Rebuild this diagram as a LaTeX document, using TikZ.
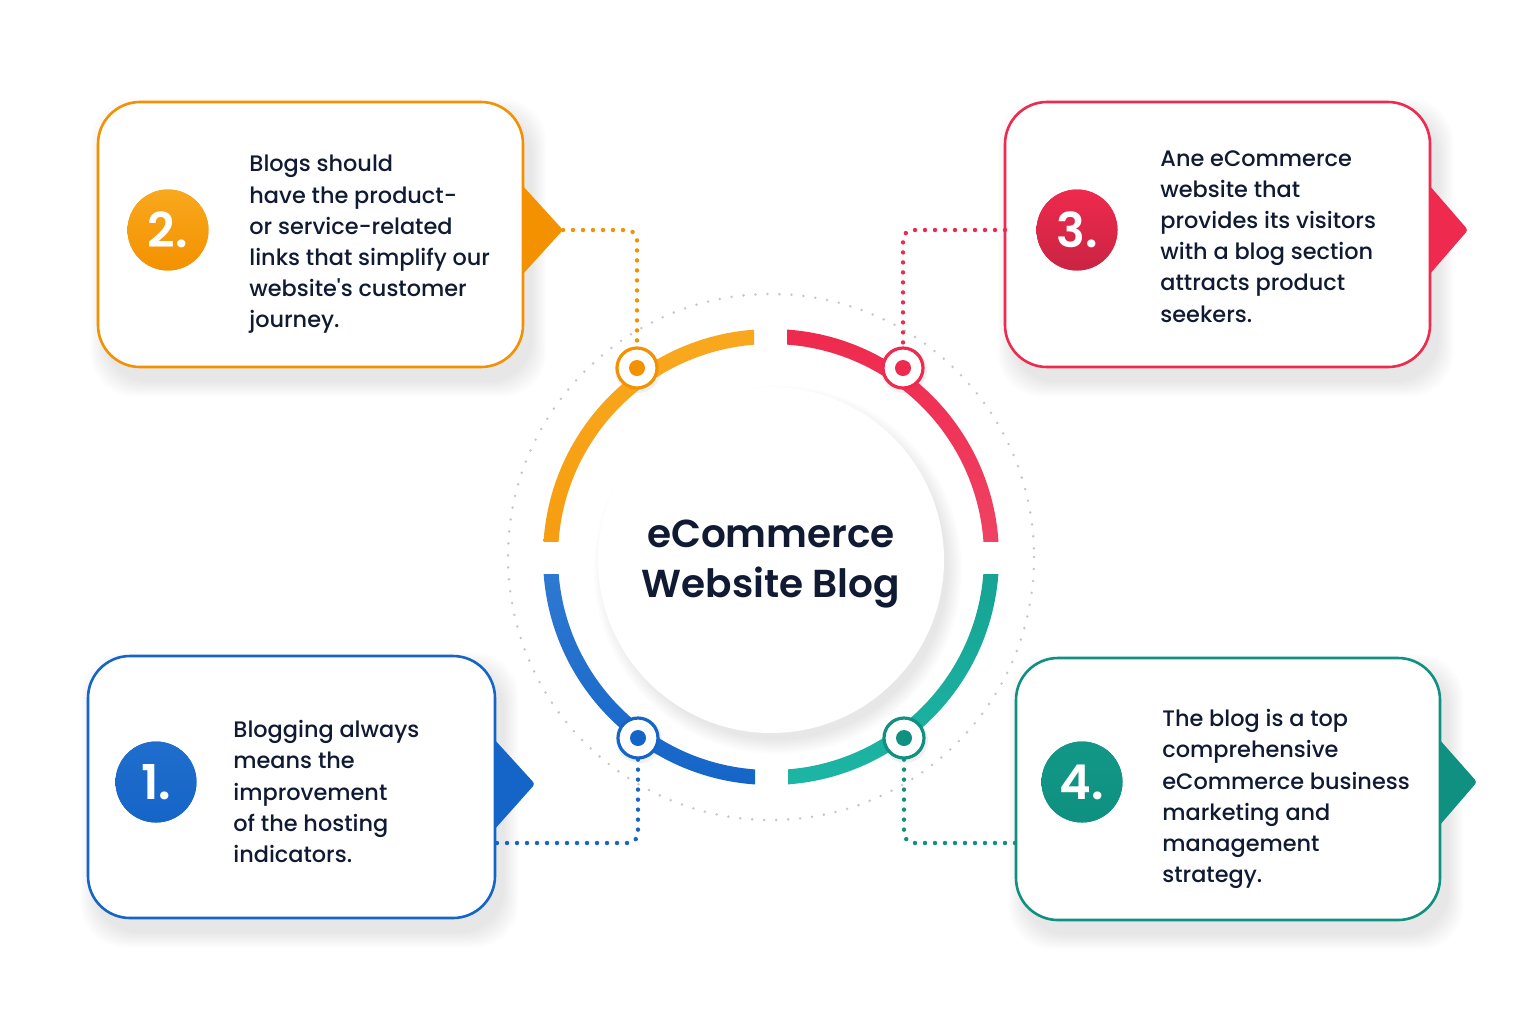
\documentclass[tikz,border=0pt]{standalone}
\usepackage{fontspec}
\setmainfont{Poppins}
\newfontfamily\medfont{Poppins Medium}
\newfontfamily\semifont{Poppins SemiBold}
\usetikzlibrary{backgrounds,calc}
\definecolor{cOr}{HTML}{F39100}
\definecolor{cOrL}{HTML}{F9A81E}
\definecolor{cRe}{HTML}{EE2A4E}
\definecolor{cReL}{HTML}{F35D7D}
\definecolor{cBl}{HTML}{1565C8}
\definecolor{cBlL}{HTML}{4A90DC}
\definecolor{cTe}{HTML}{0F9080}
\definecolor{cTeL}{HTML}{1DB5A5}
\definecolor{ink}{HTML}{101B33}
\tikzset{
  infobox/.style={draw=#1, line width=1.3pt, fill=white, rounded corners=21pt, inner sep=0pt},
  numc/.style={circle, fill=#1, inner sep=0pt, minimum size=40.5pt, text=white,
    font=\semifont\fontsize{24}{24}\selectfont},
  ringdot/.style={circle, fill=white, draw=#1, line width=1.6pt, minimum size=20pt, inner sep=0pt,
    path picture={\fill[#1] (path picture bounding box.center) circle (4pt);}},
  dotline/.style={draw=#1, line width=2.2pt, dash pattern=on 0pt off 5pt, line cap=round, rounded corners=5pt},
  bodytext/.style={anchor=north west, inner sep=0pt, align=left, text=ink,
    font=\medfont\fontsize{11.2}{15.6}\selectfont},
}
\begin{document}
\begin{tikzpicture}[x=0.5pt,y=-0.5pt]
\path[use as bounding box] (0,0) rectangle (1536,1024);
\coordinate (C) at (771,557);

% dotted guide circle
\draw[black!22, line width=1.4pt, dash pattern=on 0pt off 6pt, line cap=round] (C) circle[radius=263];

% ring arcs
\begin{scope}
  \clip (0,0) rectangle (754,541);
  \shade[top color=cOrL, bottom color=cOr, even odd rule] (C) circle[radius=228] (C) circle[radius=213];
\end{scope}
\begin{scope}
  \clip (787,0) rectangle (1536,541);
  \shade[top color=cRe, bottom color=cReL, even odd rule] (C) circle[radius=228] (C) circle[radius=213];
\end{scope}
\begin{scope}
  \clip (0,574) rectangle (755,1024);
  \shade[top color=cBlL, bottom color=cBl, even odd rule] (C) circle[radius=228] (C) circle[radius=213];
\end{scope}
\begin{scope}
  \clip (788,574) rectangle (1536,1024);
  \shade[top color=cTe, bottom color=cTeL, even odd rule] (C) circle[radius=228] (C) circle[radius=213];
\end{scope}

% hub
\node[circle, fill=white, minimum size=173pt, inner sep=0pt] (hub) at (771,560) {};
\node[align=center, text=ink, font=\semifont\fontsize{19.5}{25}\selectfont] (title) at (771,564) {eCommerce\\Website Blog};

% boxes
\node[infobox=cOr, minimum width=212.5pt, minimum height=132.5pt] (b2) at (310.5,234.5) {};
\node[infobox=cRe, minimum width=212.5pt, minimum height=132.5pt] (b3) at (1217.5,234.5) {};
\node[infobox=cBl, minimum width=203.5pt, minimum height=131pt] (b1) at (291.5,787) {};
\node[infobox=cTe, minimum width=212pt, minimum height=131pt] (b4) at (1228,789) {};

% pointers
\coordinate (t2) at (563,230);
\coordinate (t3) at (1468,230);
\coordinate (t1) at (535,784);
\coordinate (t4) at (1477,782);
\fill[cOr, rounded corners=1.5pt] (522,185) -- (t2) -- (522,275) -- cycle;
\fill[cRe, rounded corners=1.5pt] (1429,185) -- (t3) -- (1429,275) -- cycle;
\fill[cBl, rounded corners=1.5pt] (494,739) -- (t1) -- (494,830) -- cycle;
\fill[cTe, rounded corners=1.5pt] (1439,739) -- (t4) -- (1439,826) -- cycle;

% halos + number circles
\fill[white] (171,232) circle[radius=52];
\fill[white] (1080,232) circle[radius=52];
\fill[white] (159,784) circle[radius=52];
\fill[white] (1085,784) circle[radius=52];
\node[numc=cOr, top color=cOrL, bottom color=cOr] (n2) at (168,230) {2.};
\node[numc=cRe, top color=cRe, bottom color=cRe!85!black] (n3) at (1077,230) {3.};
\node[numc=cBl, top color=cBl!80!cBlL, bottom color=cBl] (n1) at (156,782) {1.};
\node[numc=cTe, top color=cTe!80!cTeL, bottom color=cTe] (n4) at (1082,782) {4.};

% texts
\node[bodytext] (x2) at (249,155) {Blogs should\\have the product-\\or service-related\\links that simplify our\\website's customer\\journey.};
\node[bodytext] (x3) at (1160,150) {Ane eCommerce\\website that\\provides its visitors\\with a blog section\\attracts product\\seekers.};
\node[bodytext] (x1) at (233,720) {Blogging always\\means the\\improvement\\of the hosting\\indicators.};
\node[bodytext] (x4) at (1162,709) {The blog is a top\\comprehensive\\eCommerce business\\marketing and\\management\\strategy.};

% ring dots
\node[ringdot=cOr] (d2) at (637,368) {};
\node[ringdot=cRe] (d3) at (903,368) {};
\node[ringdot=cBl] (d1) at (638,738) {};
\node[ringdot=cTe] (d4) at (904,738) {};

% connectors
\coordinate (s3) at (1005,230);
\coordinate (e1) at (496,843);
\coordinate (e4) at (1016,843);
\draw[dotline=cOr] (t2) -| (d2.north);
\draw[dotline=cRe] (s3) -| (d3.north);
\draw[dotline=cBl] (d1.south) |- (e1);
\draw[dotline=cTe] (d4.south) |- (e4);

% shadows and background
\begin{scope}[on background layer]
  \fill[white] (0,0) rectangle (1536,1024);
  \foreach \b in {b1,b2,b3,b4}{
    \foreach \i in {1,...,8}{
      \fill[black, opacity=0.011, rounded corners=22pt]
        ([shift={(10-2*\i,14-2*\i)}]\b.north west) rectangle ([shift={(6+2*\i,12+2*\i)}]\b.south east);
    }
  }
  \foreach \px/\py in {171/232,1080/232,159/784,1085/784}{
    \foreach \i in {1,...,6}{
      \fill[black, opacity=0.014] (\px+4,\py+6) circle[radius=50+2*\i];
    }
  }
  \foreach \i in {1,...,8}{
    \fill[black, opacity=0.01] (778,570) circle[radius=168+2*\i];
  }
  \foreach \d in {d1,d2,d3,d4}{
    \fill[black, opacity=0.06] ([shift={(1,2)}]\d.center) circle[radius=23];
  }
\end{scope}
\end{tikzpicture}
\end{document}
